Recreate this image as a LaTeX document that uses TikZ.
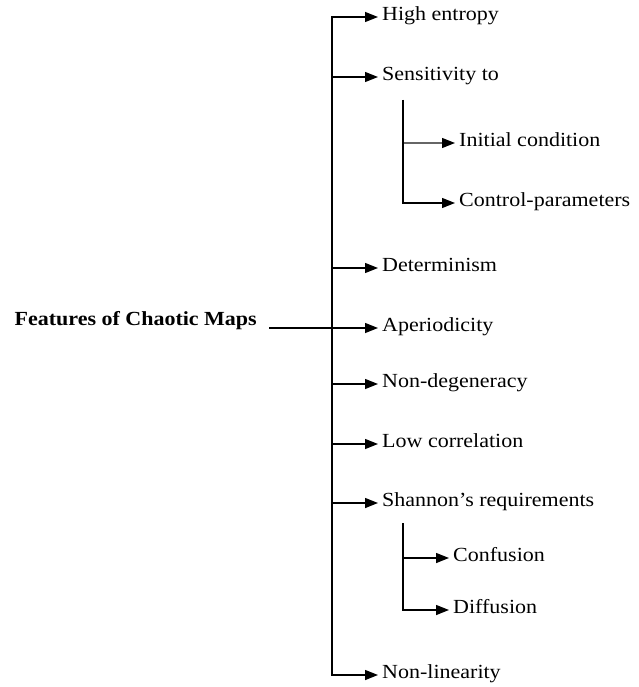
\documentclass[tikz,border=0pt]{standalone}
\usepackage{fontspec}
\setmainfont{Liberation Serif}[FakeStretch=1.1]
\usetikzlibrary{arrows.meta}
\begin{document}
\begin{tikzpicture}[x=1pt,y=-1pt,
  lbl/.style={anchor=west,inner xsep=4pt,inner ysep=0pt,text height=0.66em,text depth=0pt,font=\fontsize{20}{24}\selectfont},
  arr/.style={line width=1.4pt,-{Triangle[length=13pt,width=10pt,color=black]}},
  ln/.style={line width=1.4pt}]
\useasboundingbox (0,0) rectangle (638,687);
\node[anchor=east,inner sep=0pt,text height=0.66em,text depth=0pt,font=\fontsize{20}{24}\selectfont\bfseries] (feat) at (257,322) {Features of Chaotic Maps};
\coordinate (j) at (332,328);
\coordinate (fe) at (269,328);
\node[lbl] (high) at (378,17) {High entropy};
\node[lbl] (sens) at (378,77) {Sensitivity to};
\node[lbl] (init) at (455,143) {Initial condition};
\node[lbl] (ctrl) at (455,203) {Control-parameters};
\node[lbl] (det) at (378,268) {Determinism};
\node[lbl] (aper) at (378,328) {Aperiodicity};
\node[lbl] (nondeg) at (378,384) {Non-degeneracy};
\node[lbl] (low) at (378,444) {Low correlation};
\node[lbl] (shan) at (378,503) {Shannon's requirements};
\node[lbl] (conf) at (449,558) {Confusion};
\node[lbl] (diff) at (449,610) {Diffusion};
\node[lbl] (nonlin) at (378,675) {Non-linearity};
\coordinate (s1) at (403,100);
\coordinate (s1b) at (403,143);
\coordinate (s2) at (403,523);
\draw[ln] (fe) -- (j);
\foreach \n in {high,sens,det,aper,nondeg,low,shan,nonlin} \draw[arr] (j) |- (\n.west);
\draw[ln] (s1) -- (s1b);
\draw[arr,draw=black!60] (s1b) -- (init.west);
\draw[arr] (s1) |- (ctrl.west);
\draw[arr] (s2) |- (conf.west);
\draw[arr] (s2) |- (diff.west);
\end{tikzpicture}
\end{document}
